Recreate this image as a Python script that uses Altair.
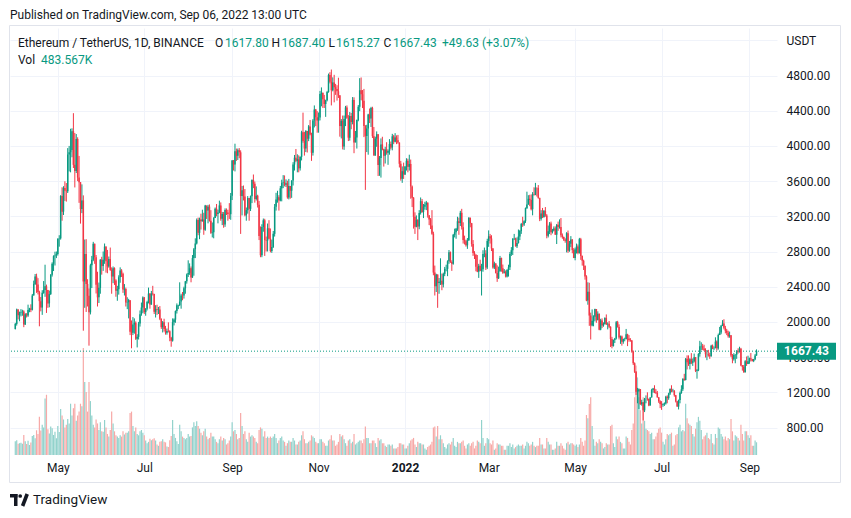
import altair as alt
import pandas as pd

# ---------------- data (ETH/USDT daily) ----------------
start_date = "2021-04-01"
first_open = 1919.0

close = [
    # 2021-04
    1977, 2142, 2077, 2107, 2112, 2117, 1970, 2087, 2072, 2135, 2152, 2138, 2300, 2432, 2515,
    2424, 2340, 2236, 2164, 2330, 2364, 2404, 2364, 2210, 2316, 2535, 2662, 2747, 2756, 2772,
    # 2021-05
    2946, 2949, 3432, 3253, 3523, 3491, 3485, 3902, 3929, 3953, 4168, 3785, 3715, 4079, 3641,
    3588, 3282, 3380, 2460, 2772, 2431, 2296, 2109, 2643, 2706, 2888, 2736, 2422, 2279, 2387, 2707,
    # 2021-06
    2634, 2707, 2856, 2690, 2630, 2714, 2591, 2517, 2610, 2471, 2354, 2372, 2508, 2585, 2547,
    2367, 2374, 2221, 2224, 2247, 1888, 1876, 1970, 1990, 1809, 1830, 1981, 2088, 2163, 2278,
    # 2021-07
    2111, 2150, 2225, 2322, 2197, 2323, 2316, 2115, 2147, 2138, 2140, 2035, 1940, 1995, 1918,
    1877, 1898, 1895, 1820, 1787, 1996, 2026, 2123, 2188, 2191, 2231, 2300, 2299, 2382, 2461, 2540,
    # 2021-08
    2557, 2609, 2506, 2725, 2827, 2891, 3157, 3012, 3163, 3143, 3164, 3047, 3322, 3265, 3310,
    3150, 3013, 3019, 3182, 3286, 3227, 3243, 3324, 3173, 3225, 3108, 3273, 3242, 3225, 3224, 3433,
    # 2021-09
    3834, 3788, 3938, 3887, 3952, 3927, 3431, 3495, 3426, 3211, 3270, 3408, 3285, 3429, 3613,
    3569, 3398, 3434, 3331, 2977, 2758, 3079, 3155, 2930, 2924, 3063, 2946, 2805, 2850, 3001,
    # 2021-10
    3308, 3390, 3418, 3380, 3518, 3580, 3587, 3560, 3576, 3415, 3545, 3491, 3606, 3788, 3866,
    3830, 3848, 3745, 3876, 4155, 4055, 3970, 4170, 4082, 4222, 4130, 3922, 4290, 4414, 4325, 4288,
    # 2021-11
    4323, 4589, 4604, 4530, 4476, 4518, 4612, 4807, 4730, 4632, 4721, 4666, 4648, 4620, 4575,
    4225, 4285, 3993, 4306, 4437, 4320, 4094, 4340, 4273, 4523, 4040, 4097, 4294, 4445, 4632,
    # 2021-12
    4586, 4512, 4225, 4114, 4197, 4357, 4311, 4432, 4111, 3890, 4083, 4133, 3783, 3862, 4017,
    3961, 3887, 3960, 3922, 3941, 4021, 3982, 4109, 4048, 4095, 4065, 4038, 3797, 3627, 3713, 3676,
    # 2022-01
    3765, 3830, 3762, 3795, 3540, 3412, 3196, 3080, 3158, 3083, 3239, 3372, 3249, 3308, 3331,
    3356, 3212, 3164, 3096, 3002, 2561, 2406, 2539, 2441, 2457, 2468, 2425, 2546, 2603, 2603, 2688,
    # 2022-02
    2792, 2681, 2660, 2990, 3020, 3058, 3144, 3123, 3240, 3077, 2930, 2917, 2871, 2929,
    3183, 3122, 2886, 2782, 2765, 2627, 2571, 2638, 2582, 2599, 2773, 2777, 2619, 2920,
    # 2022-03
    2973, 2948, 2835, 2618, 2664, 2557, 2495, 2576, 2727, 2609, 2560, 2571, 2516, 2591, 2620,
    2772, 2814, 2944, 2947, 2860, 2897, 2971, 3032, 3112, 3107, 3145, 3293, 3333, 3399, 3384, 3281,
    # 2022-04
    3452, 3444, 3523, 3521, 3410, 3171, 3233, 3188, 3262, 3210, 2980, 3029, 3118, 3020, 3040,
    3061, 2991, 3103, 3078, 3078, 2985, 2964, 2935, 2923, 3008, 2809, 2889, 2936, 2816, 2726,
    # 2022-05
    2827, 2857, 2783, 2940, 2749, 2695, 2637, 2516, 2242, 2342, 2072, 1960, 2013, 2058, 2146,
    2023, 2092, 1912, 2017, 1960, 1976, 2043, 1972, 1978, 1945, 1805, 1725, 1794, 1812, 1997, 1942,
    # 2022-06
    1823, 1834, 1775, 1805, 1806, 1859, 1812, 1793, 1789, 1665, 1530, 1433, 1207, 1209, 1236,
    1067, 1087, 995, 1127, 1128, 1123, 1051, 1142, 1225, 1243, 1200, 1192, 1142, 1098, 1067,
    # 2022-07
    1059, 1067, 1074, 1150, 1134, 1186, 1237, 1215, 1217, 1167, 1097, 1038, 1113, 1192, 1234,
    1355, 1340, 1580, 1542, 1522, 1577, 1536, 1552, 1598, 1441, 1450, 1636, 1724, 1727, 1697, 1679,
    # 2022-08
    1632, 1632, 1620, 1609, 1729, 1697, 1702, 1776, 1700, 1851, 1880, 1957, 1982, 1933, 1900,
    1876, 1837, 1849, 1617, 1577, 1623, 1628, 1663, 1657, 1696, 1505, 1490, 1428, 1554, 1523, 1553,
    # 2022-09
    1586, 1577, 1556, 1575, 1617.80, 1667.43,
]

high = [
    1989, 2151, 2144, 2117, 2145, 2138, 2132, 2100, 2100, 2196, 2160, 2200, 2318, 2469, 2544,
    2548, 2497, 2354, 2283, 2360, 2464, 2650, 2424, 2360, 2356, 2544, 2677, 2757, 2798, 2800,
    2950, 2985, 3440, 3530, 3542, 3598, 3578, 3975, 4000, 4195, 4200, 4372, 4147, 4135, 4098,
    3886, 3587, 3563, 3438, 2936, 2940, 2485, 2380, 2661, 2750, 2910, 2890, 2760, 2570, 2447, 2713,
    2740, 2800, 2891, 2857, 2818, 2743, 2845, 2620, 2630, 2620, 2485, 2410, 2530, 2620, 2600,
    2560, 2430, 2390, 2280, 2262, 2247, 2017, 2055, 2040, 2006, 1860, 2000, 2130, 2220, 2290,
    2283, 2157, 2240, 2390, 2325, 2352, 2410, 2320, 2190, 2195, 2170, 2180, 2040, 2010, 2036,
    1955, 1925, 1995, 1905, 1830, 2040, 2040, 2130, 2210, 2195, 2450, 2320, 2340, 2400, 2466, 2550,
    2700, 2665, 2630, 2760, 2840, 2950, 3175, 3185, 3185, 3230, 3275, 3240, 3330, 3300, 3330,
    3335, 3270, 3130, 3190, 3300, 3340, 3275, 3378, 3358, 3250, 3249, 3290, 3290, 3275, 3350, 3465,
    3840, 3840, 4025, 3970, 3970, 3975, 3950, 3545, 3550, 3510, 3300, 3430, 3409, 3436, 3620,
    3675, 3595, 3540, 3445, 3375, 3085, 3110, 3175, 3172, 2970, 3118, 3156, 3062, 2935, 3033,
    3340, 3467, 3490, 3440, 3545, 3616, 3668, 3665, 3620, 3605, 3625, 3545, 3610, 3815, 3897,
    3965, 3905, 3893, 3880, 4172, 4378, 4160, 4180, 4170, 4237, 4295, 4150, 4305, 4460, 4420, 4395,
    4380, 4625, 4665, 4605, 4580, 4525, 4625, 4822, 4838, 4868, 4779, 4808, 4705, 4690, 4775,
    4575, 4305, 4345, 4345, 4455, 4460, 4350, 4385, 4375, 4555, 4552, 4170, 4300, 4465, 4770,
    4778, 4635, 4648, 4237, 4240, 4365, 4425, 4444, 4445, 4215, 4105, 4165, 4134, 3885, 4085,
    4104, 3968, 3990, 4042, 3960, 4077, 4050, 4137, 4125, 4145, 4120, 4125, 4040, 3830, 3767, 3810,
    3770, 3860, 3855, 3900, 3845, 3550, 3418, 3245, 3210, 3168, 3270, 3414, 3397, 3340, 3365,
    3375, 3355, 3208, 3180, 3270, 3025, 2640, 2547, 2478, 2499, 2723, 2550, 2560, 2625, 2650, 2700,
    2817, 2800, 2700, 3000, 3060, 3068, 3195, 3185, 3262, 3285, 3132, 2980, 2935, 2953,
    3190, 3185, 3125, 2930, 2804, 2765, 2760, 2660, 2707, 2660, 2815, 2845, 2815, 2945,
    3040, 3000, 2985, 2840, 2684, 2667, 2643, 2628, 2750, 2730, 2652, 2600, 2585, 2600, 2650,
    2794, 2850, 2952, 3000, 2957, 2960, 3050, 3045, 3125, 3195, 3155, 3300, 3480, 3440, 3445, 3448,
    3475, 3530, 3580, 3530, 3555, 3410, 3270, 3295, 3270, 3305, 3225, 3095, 3135, 3140, 3057,
    3085, 3085, 3113, 3140, 3165, 3180, 3005, 2970, 2950, 3020, 3038, 2920, 2975, 2941, 2838,
    2845, 2890, 2880, 2955, 2955, 2755, 2707, 2640, 2530, 2450, 2445, 2105, 2142, 2075, 2150,
    2145, 2120, 2095, 2035, 2040, 1995, 2053, 2085, 1995, 2010, 1950, 1830, 1800, 1818, 2010, 2012,
    1972, 1845, 1845, 1810, 1820, 1920, 1865, 1850, 1815, 1795, 1675, 1540, 1440, 1250, 1245,
    1235, 1115, 1087, 1136, 1165, 1200, 1130, 1145, 1240, 1250, 1280, 1236, 1215, 1147, 1110,
    1100, 1075, 1085, 1160, 1165, 1195, 1245, 1280, 1240, 1225, 1170, 1100, 1117, 1208, 1280,
    1358, 1410, 1590, 1620, 1620, 1588, 1645, 1585, 1640, 1600, 1465, 1645, 1785, 1768, 1750, 1740,
    1700, 1680, 1682, 1650, 1740, 1743, 1720, 1825, 1790, 1867, 1943, 1965, 2020, 2030, 1955,
    1920, 1900, 1890, 1850, 1635, 1645, 1632, 1680, 1700, 1718, 1705, 1510, 1510, 1565, 1607, 1616,
    1594, 1646, 1580, 1580, 1635, 1687.40,
]

low = [
    1914, 1958, 2028, 2007, 2062, 2070, 1940, 1965, 2050, 2057, 2110, 2111, 2130, 2300, 2420,
    2330, 2312, 1950, 2120, 2080, 2320, 2285, 2102, 2160, 2166, 2306, 2515, 2578, 2641, 2725,
    2754, 2855, 2935, 3150, 3215, 3375, 3367, 3465, 3710, 3700, 3871, 3749, 3528, 3692, 3600,
    3353, 3117, 3236, 1900, 2160, 2113, 2175, 1730, 2085, 2385, 2690, 2660, 2323, 2175, 2215, 2320,
    2537, 2580, 2660, 2560, 2553, 2616, 2580, 2320, 2440, 2420, 2286, 2240, 2310, 2445, 2510,
    2330, 2300, 2175, 2145, 2040, 1850, 1700, 1850, 1866, 1795, 1710, 1800, 1947, 2070, 2100,
    2090, 2070, 2130, 2210, 2150, 2195, 2300, 2090, 2050, 2080, 2090, 2020, 1920, 1880, 1890,
    1855, 1855, 1880, 1780, 1718, 1776, 1960, 1990, 2095, 2145, 2180, 2150, 2246, 2265, 2320, 2435,
    2510, 2535, 2450, 2500, 2525, 2725, 2880, 2985, 2940, 3050, 3140, 2990, 3035, 3170, 3120,
    3140, 3000, 2960, 2950, 3180, 3200, 3120, 3235, 3150, 3100, 3070, 3080, 3215, 3150, 3170, 3160,
    3385, 3720, 3710, 3830, 3840, 3860, 3000, 3210, 3380, 3200, 3150, 3230, 3150, 3260, 3350,
    3520, 3355, 3380, 3300, 2930, 2735, 2735, 3025, 2750, 2800, 2800, 2938, 2790, 2785, 2840,
    2970, 3265, 3355, 3265, 3370, 3370, 3520, 3540, 3533, 3400, 3392, 3400, 3410, 3550, 3720,
    3815, 3700, 3700, 3720, 3835, 4036, 3890, 3930, 3925, 4054, 4120, 3830, 3890, 4210, 4225, 4150,
    4150, 4290, 4450, 4432, 4431, 4330, 4506, 4605, 4710, 4460, 4620, 4495, 4580, 4515, 4545,
    4105, 4085, 3960, 3955, 4225, 4310, 4055, 4060, 4190, 4245, 3917, 4040, 3970, 4280, 4395,
    4520, 4430, 4100, 3500, 3930, 3900, 4260, 4215, 4090, 3890, 3890, 3990, 3658, 3660, 3640,
    3950, 3765, 3800, 3900, 3785, 3900, 3960, 3950, 4020, 4040, 4020, 4025, 3755, 3605, 3580, 3625,
    3670, 3720, 3700, 3720, 3400, 3305, 3060, 3000, 3075, 2930, 3053, 3220, 3240, 3180, 3275,
    3270, 3185, 3100, 3055, 2990, 2530, 2300, 2340, 2160, 2320, 2420, 2360, 2392, 2520, 2575, 2520,
    2660, 2670, 2580, 2650, 2960, 2945, 3035, 2990, 3090, 3050, 2890, 2880, 2855, 2830,
    2920, 3075, 2855, 2750, 2715, 2575, 2565, 2500, 2576, 2300, 2570, 2735, 2590, 2600,
    2853, 2890, 2805, 2605, 2600, 2550, 2455, 2488, 2570, 2570, 2546, 2550, 2505, 2505, 2515,
    2590, 2750, 2760, 2930, 2855, 2840, 2890, 2930, 3000, 3080, 3090, 3125, 3285, 3335, 3315, 3267,
    3211, 3435, 3440, 3425, 3400, 3145, 3152, 3180, 3190, 3195, 2950, 2960, 2998, 2985, 3005,
    3030, 2990, 2885, 3035, 3060, 2960, 2945, 2920, 2900, 2790, 2785, 2797, 2850, 2780, 2725,
    2700, 2777, 2768, 2776, 2705, 2640, 2590, 2480, 2235, 2195, 1955, 1800, 1950, 1950, 2005,
    1990, 2016, 1905, 1905, 1930, 1945, 1970, 1965, 1915, 1930, 1715, 1700, 1720, 1760, 1800, 1935,
    1800, 1750, 1730, 1752, 1780, 1800, 1725, 1775, 1775, 1650, 1510, 1420, 1170, 1075, 1010,
    1055, 1048, 880, 975, 1075, 1105, 1042, 1050, 1140, 1195, 1190, 1180, 1140, 1080, 1020,
    1000, 1035, 1045, 1060, 1075, 1115, 1170, 1200, 1200, 1150, 1085, 1035, 1005, 1075, 1183,
    1215, 1330, 1335, 1460, 1500, 1460, 1520, 1500, 1540, 1430, 1355, 1440, 1605, 1680, 1680, 1670,
    1595, 1565, 1605, 1580, 1605, 1690, 1680, 1700, 1675, 1685, 1850, 1860, 1952, 1915, 1870,
    1850, 1820, 1820, 1600, 1530, 1560, 1530, 1580, 1640, 1652, 1496, 1446, 1422, 1425, 1500, 1520,
    1524, 1550, 1550, 1543, 1565, 1615.27,
]

volume_k = [
    520, 560, 430, 450, 470, 430, 760, 520, 420, 540, 380, 480, 720, 760, 640,
    940, 800, 1450, 930, 1150, 1050, 2150, 2290, 980, 820, 1080, 1020, 760, 880, 640,
    1100, 870, 1750, 1500, 1350, 1050, 1150, 1370, 1200, 1950, 1500, 1780, 1950, 1300, 1500,
    1650, 1950, 1850, 4070, 2780, 2400, 1650, 2780, 2050, 1500, 1150, 1050, 1350, 1200, 950, 1250,
    900, 880, 1330, 1050, 800, 700, 950, 1650, 1200, 900, 750, 700, 650, 750, 700,
    900, 780, 850, 850, 900, 1600, 1650, 1100, 900, 1050, 800, 750, 900, 950, 850,
    750, 550, 450, 500, 620, 560, 600, 640, 550, 400, 350, 500, 520, 600, 500,
    480, 320, 300, 560, 720, 1330, 800, 650, 520, 420, 1150, 900, 700, 650, 600, 650,
    800, 700, 720, 1050, 1250, 1100, 1280, 1100, 1000, 850, 750, 900, 1000, 700, 600,
    650, 850, 700, 700, 600, 500, 450, 600, 700, 550, 650, 600, 400, 450, 550, 700,
    1250, 900, 950, 800, 600, 650, 1600, 1100, 800, 900, 600, 500, 850, 700, 750,
    700, 650, 500, 450, 950, 1050, 1000, 700, 900, 650, 700, 650, 700, 650, 700,
    800, 650, 450, 550, 650, 700, 550, 500, 350, 450, 550, 500, 500, 650, 550,
    400, 400, 500, 550, 750, 900, 600, 450, 450, 500, 550, 750, 700, 650, 500, 450,
    450, 600, 600, 500, 450, 350, 350, 550, 600, 750, 550, 550, 350, 400, 500,
    800, 700, 750, 600, 450, 350, 550, 600, 450, 500, 800, 400, 450, 500, 550,
    550, 450, 600, 1080, 650, 650, 450, 450, 550, 550, 450, 300, 650, 550, 600,
    450, 450, 350, 300, 400, 400, 350, 400, 250, 250, 250, 300, 450, 450, 400, 400,
    250, 250, 350, 450, 550, 600, 650, 400, 300, 500, 450, 450, 400, 400, 250,
    200, 300, 350, 400, 500, 1050, 1080, 700, 1100, 600, 750, 600, 450, 300, 250, 400,
    450, 400, 500, 650, 350, 300, 500, 450, 450, 500, 550, 350, 250, 400,
    450, 350, 450, 500, 250, 350, 550, 500, 450, 1330, 650, 350, 450, 650,
    600, 450, 400, 550, 200, 250, 450, 400, 400, 350, 350, 200, 200, 350, 350,
    450, 300, 400, 250, 300, 350, 400, 350, 350, 400, 250, 350, 500, 450, 350, 400,
    500, 350, 300, 350, 350, 650, 400, 400, 250, 250, 650, 500, 400, 400, 200,
    200, 250, 500, 350, 350, 450, 350, 250, 200, 450, 500, 400, 450, 450, 400,
    350, 400, 300, 400, 650, 500, 350, 550, 1520, 1400, 1940, 2200, 1100, 600, 350,
    500, 450, 600, 500, 450, 250, 300, 450, 400, 400, 1100, 1150, 450, 300, 700, 600,
    700, 500, 450, 250, 250, 700, 650, 500, 400, 950, 1200, 2200, 3400, 2950, 2200,
    1700, 1200, 2200, 1300, 1000, 950, 900, 800, 850, 600, 600, 700, 850, 1000, 1050,
    850, 500, 400, 600, 800, 750, 800, 850, 350, 400, 750, 800, 1050, 1150, 900,
    950, 900, 1950, 1400, 1200, 1150, 1100, 800, 700, 1000, 1250, 1450, 1300, 950, 600, 700,
    750, 850, 650, 600, 800, 450, 400, 800, 650, 1050, 1000, 800, 700, 600, 700,
    550, 650, 600, 1370, 900, 550, 750, 700, 650, 550, 1150, 800, 550, 900, 900, 750,
    650, 750, 350, 350, 550, 483.567,
]

x_tick_dates = ["2021-05-01", "2021-07-01", "2021-09-01", "2021-11-01", "2022-01-01",
                "2022-03-01", "2022-05-01", "2022-07-01", "2022-09-01"]
price_ticks = [800, 1200, 1600, 2000, 2400, 2800, 3200, 3600, 4000, 4400, 4800, 5200]
last_price = 1667.43

# ---------------- table ----------------
n = len(close)
dates = pd.date_range(start_date, periods=n, freq="D")
opens = [first_open] + close[:-1]
df = pd.DataFrame({
    "date": dates.strftime("%Y-%m-%d"),
    "open": opens,
    "close": close,
    "high": [max(h, o, c) for h, o, c in zip(high[:n], opens, close)],
    "low": [min(l, o, c) for l, o, c in zip(low[:n], opens, close)],
    "vol": volume_k[:n],
})

# ---------------- style ----------------
GREEN = "#089981"
RED = "#f23645"
VUP = "#92d2cc"
VDN = "#f7a9a7"
TXT = "#131722"
GRID = "#f0f3fa"
FONT = "Roboto"

W, H = 767, 427
up = "datum.close >= datum.open"


def dt(s, h=0):
    y, m, d = (int(p) for p in s.split("-"))
    return alt.DateTime(year=y, month=m, date=d, hours=h, utc=True)


x_scale = alt.Scale(type="utc", domain=[dt("2021-03-31", 19), dt("2022-09-16", 22)])
x_axis = alt.Axis(
    values=[dt(s) for s in x_tick_dates],
    labelExpr="utcmonth(datum.value) == 0 ? utcFormat(datum.value, '%Y') : utcFormat(datum.value, '%b')",
    labelFontWeight={"condition": {"test": "utcmonth(datum.value) == 0", "value": "bold"}, "value": "normal"},
    labelFont=FONT, labelFontSize=12, labelColor=TXT, labelPadding=7,
    labelFlush=False, labelOverlap=False,
    grid=True, gridColor=GRID, gridWidth=1, ticks=False, domain=False, title=None,
)
X = alt.X("date:T", scale=x_scale, axis=x_axis)

price_scale = alt.Scale(domain=[487.5, 5340], nice=False, zero=False)
price_axis = alt.Axis(
    orient="right", values=price_ticks,
    labelExpr="datum.value == 5200 ? 'USDT' : format(datum.value, '.2f')",
    labelFont=FONT, labelFontSize=12, labelColor=TXT, labelPadding=9,
    labelAlign="left", labelBaseline="middle", labelFlush=False, labelOverlap=False,
    grid=True, gridColor=GRID, gridWidth=1, ticks=False, domain=False, title=None,
)

one = pd.DataFrame({"k": [0]})

volume = alt.Chart(df).mark_bar(size=1.2).encode(
    x=X,
    y=alt.Y("vol:Q", scale=alt.Scale(domain=[0, 16236], nice=False, zero=True), axis=None),
    color=alt.condition(up, alt.value(VUP), alt.value(VDN)),
)

last_line = alt.Chart(one).mark_rule(color=GREEN, strokeDash=[1, 2], strokeWidth=1).encode(
    y=alt.Y(datum=last_price, type="quantitative", scale=price_scale, axis=price_axis),
)

wicks = alt.Chart(df).mark_rule(strokeWidth=1).encode(
    x=X,
    y=alt.Y("low:Q", scale=price_scale, axis=price_axis),
    y2="high:Q",
    color=alt.condition(up, alt.value(GREEN), alt.value(RED)),
)

bodies = alt.Chart(df).mark_bar(size=1.5).encode(
    x=X,
    y=alt.Y("open:Q", scale=price_scale, axis=price_axis),
    y2="close:Q",
    color=alt.condition(up, alt.value(GREEN), alt.value(RED)),
)

tag = alt.Chart(one).mark_rect(color=GREEN, yOffset=-8.5, y2Offset=8.5).encode(
    x=alt.value(W), x2=alt.value(W + 59),
    y=alt.Y(datum=last_price, type="quantitative", scale=price_scale, axis=price_axis),
    y2=alt.Y2(datum=last_price),
)
tag_text = alt.Chart(one).mark_text(
    color="white", font=FONT, fontSize=12, fontWeight="bold", align="center", baseline="middle"
).encode(
    x=alt.value(W + 29.5),
    y=alt.Y(datum=last_price, type="quantitative", scale=price_scale, axis=price_axis),
    text=alt.value(f"{last_price:.2f}"),
)

price_layer = alt.layer(last_line, wicks, bodies, tag, tag_text)


def label(txt, px, py, color=TXT, size=12, weight="normal"):
    return alt.Chart(one).mark_text(
        align="left", baseline="middle", font=FONT, fontSize=size, fontWeight=weight, color=color
    ).encode(x=alt.value(px - 10), y=alt.value(py - 28), text=alt.value(txt))


texts = [
    label("Published on TradingView.com, Sep 06, 2022 13:00 UTC", 10, 14.5),
    label("Ethereum / TetherUS, 1D, BINANCE", 18, 42.5),
    label("O", 215, 42.5),
    label("1617.80", 225, 42.5, GREEN),
    label("H", 271.5, 42.5),
    label("1687.40", 281.5, 42.5, GREEN),
    label("L", 328.5, 42.5),
    label("1615.27", 336, 42.5, GREEN),
    label("C", 383.5, 42.5),
    label("1667.43", 393, 42.5, GREEN),
    label("+49.63 (+3.07%)", 442, 42.5, GREEN),
    label("Vol", 18, 59.5),
    label("483.567K", 41, 59.5, GREEN),
    label("TradingView", 33, 500, size=13.5),
]

frame = alt.Chart(one).mark_rect(stroke="#e0e3eb", strokeWidth=1, fillOpacity=0).encode(
    x=alt.value(-0.5), x2=alt.value(830.5), y=alt.value(-2.5), y2=alt.value(454.5)
)

logo = [
    alt.Chart(one).mark_rect(color=TXT).encode(
        x=alt.value(0), x2=alt.value(7.5), y=alt.value(466), y2=alt.value(469.5)),
    alt.Chart(one).mark_rect(color=TXT).encode(
        x=alt.value(4), x2=alt.value(7.5), y=alt.value(466), y2=alt.value(478)),
    alt.Chart(one).mark_point(color=TXT, filled=True, size=14, opacity=1).encode(
        x=alt.value(10.2), y=alt.value(468)),
    alt.Chart(one).mark_rule(color=TXT, strokeWidth=3.6).encode(
        x=alt.value(17.2), x2=alt.value(12.6), y=alt.value(466), y2=alt.value(478)),
]

chart = alt.layer(volume, price_layer, frame, *texts, *logo).resolve_scale(
    y="independent"
).properties(
    width=W, height=H,
    autosize=alt.AutoSizeParams(type="none"),
    padding={"left": 2, "top": 20, "right": 66, "bottom": 55},
    background="white",
).configure_view(strokeWidth=0)

chart.save("out.html", embed_options={"renderer": "svg", "actions": False})
